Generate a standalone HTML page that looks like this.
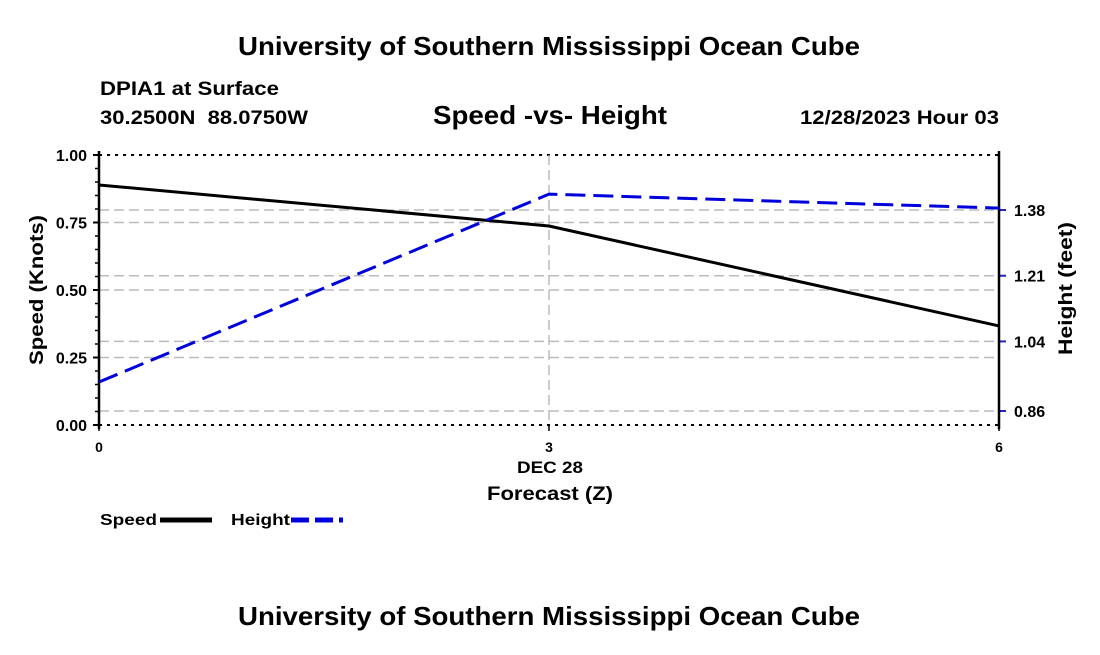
<!DOCTYPE html>
<html><head><meta charset="utf-8"><style>
body{margin:0;background:#fff;width:1100px;height:650px;overflow:hidden}
svg text{font-family:"Liberation Sans",Arial,sans-serif;font-weight:bold;fill:#000}
</style></head><body>
<svg width="1100" height="650">
<text x="238" y="55" font-size="26" textLength="622" lengthAdjust="spacingAndGlyphs">University of Southern Mississippi Ocean Cube</text>
<text x="100" y="95" font-size="19" textLength="179" lengthAdjust="spacingAndGlyphs">DPIA1 at Surface</text>
<text x="100" y="124" font-size="19" textLength="208" lengthAdjust="spacingAndGlyphs" xml:space="preserve">30.2500N  88.0750W</text>
<text x="433" y="124" font-size="26" textLength="234" lengthAdjust="spacingAndGlyphs">Speed -vs- Height</text>
<text x="800" y="124" font-size="19" textLength="199" lengthAdjust="spacingAndGlyphs">12/28/2023 Hour 03</text>
<g id="grid"></g>
<g id="axes"></g>
<g id="series"></g>
<text x="517" y="473" font-size="17" textLength="66" lengthAdjust="spacingAndGlyphs">DEC 28</text>
<text x="487" y="500" font-size="19" textLength="126" lengthAdjust="spacingAndGlyphs">Forecast (Z)</text>
<text transform="translate(43,365) rotate(-90)" font-size="19" textLength="150" lengthAdjust="spacingAndGlyphs">Speed (Knots)</text>
<text transform="translate(1072,355) rotate(-90)" font-size="19" textLength="133" lengthAdjust="spacingAndGlyphs">Height (feet)</text>
<g><text x="100" y="525" font-size="16" textLength="57" lengthAdjust="spacingAndGlyphs">Speed</text><line x1="160" y1="520" x2="212" y2="520" stroke="#000" stroke-width="5"/></g>
<g><text x="231" y="525" font-size="16" textLength="59" lengthAdjust="spacingAndGlyphs">Height</text><line x1="291" y1="520" x2="343" y2="520" stroke="#0000dd" stroke-width="5" stroke-dasharray="18,6"/></g>
<text x="238" y="625" font-size="26" textLength="622" lengthAdjust="spacingAndGlyphs">University of Southern Mississippi Ocean Cube</text>
</svg>
<script>
const hours=[0,3,6];
const speed=[0.889,0.737,0.367];
const height=[0.935,1.421,1.385];
const speedTicks=["0.00","0.25","0.50","0.75","1.00"];
const heightTicks=["0.86","1.04","1.21","1.38"];
const NS="http://www.w3.org/2000/svg";
const L=99,R=999,T=155,B=425;
const xs=h=>L+(R-L)*h/6;
const ys=v=>B-(B-T)*v;
const yh=v=>411-(v-0.86)*386.5;
function el(tag,attrs,parent){const e=document.createElementNS(NS,tag);for(const k in attrs)e.setAttribute(k,attrs[k]);parent.appendChild(e);return e;}
const grid=document.getElementById('grid'),axes=document.getElementById('axes'),series=document.getElementById('series');
[T,B].forEach(y=>{const l=el('line',{x1:L,x2:R,y1:y,y2:y,stroke:'#000','stroke-width':2,'stroke-dasharray':'3,5'},grid);
});
speedTicks.forEach(t=>{const v=parseFloat(t),y=ys(v);
 if(v>0&&v<1){const g=el('line',{x1:L,x2:R,y1:y,y2:y,stroke:'#bbb','stroke-width':1.5,'stroke-dasharray':'10,5'},grid);
 }
 const tk=el('line',{x1:L-6,x2:L,y1:y,y2:y,stroke:'#000','stroke-width':2},axes);
 
 const tx=el('text',{x:L-12,y:y+6,'font-size':16,'text-anchor':'end'},axes);tx.textContent=t;
 });
for(let i=1;i<20;i++){if(i%5==0)continue;const y=ys(i*0.05);
 const m=el('line',{x1:L-4,x2:L,y1:y,y2:y,stroke:'#000','stroke-width':1.5},axes);
 }
heightTicks.forEach(t=>{const y=yh(parseFloat(t));
 const g=el('line',{x1:L,x2:R,y1:y,y2:y,stroke:'#bbb','stroke-width':1.5,'stroke-dasharray':'10,5'},grid);
 
 const tk=el('line',{x1:R,x2:R+7,y1:y,y2:y,stroke:'#22c','stroke-width':2},axes);
 
 const tx=el('text',{x:R+15,y:y+6,'font-size':16},axes);tx.textContent=t;
 });
hours.forEach(h=>{const x=xs(h);
 if(h>0&&h<6){const g=el('line',{x1:x,x2:x,y1:T,y2:B,stroke:'#bbb','stroke-width':1.5,'stroke-dasharray':'10,5'},grid);
 }
 const tk=el('line',{x1:x,x2:x,y1:B,y2:B+6,stroke:'#000','stroke-width':1.5},axes);
 
 const tx=el('text',{x:x,y:B+27,'font-size':14,'text-anchor':'middle'},axes);tx.textContent=h;
 });
[L,R].forEach(x=>{const a=el('line',{x1:x,x2:x,y1:T-4,y2:B+4,stroke:'#000','stroke-width':2.5},axes);
 });
const sp=el('polyline',{points:hours.map((h,i)=>xs(h)+','+ys(speed[i])).join(' '),fill:'none',stroke:'#000','stroke-width':3},series);

const hp=el('polyline',{points:hours.map((h,i)=>xs(h)+','+yh(height[i])).join(' '),fill:'none',stroke:'#0000dd','stroke-width':3,'stroke-dasharray':'20,8'},series);

</script>
</body></html>
